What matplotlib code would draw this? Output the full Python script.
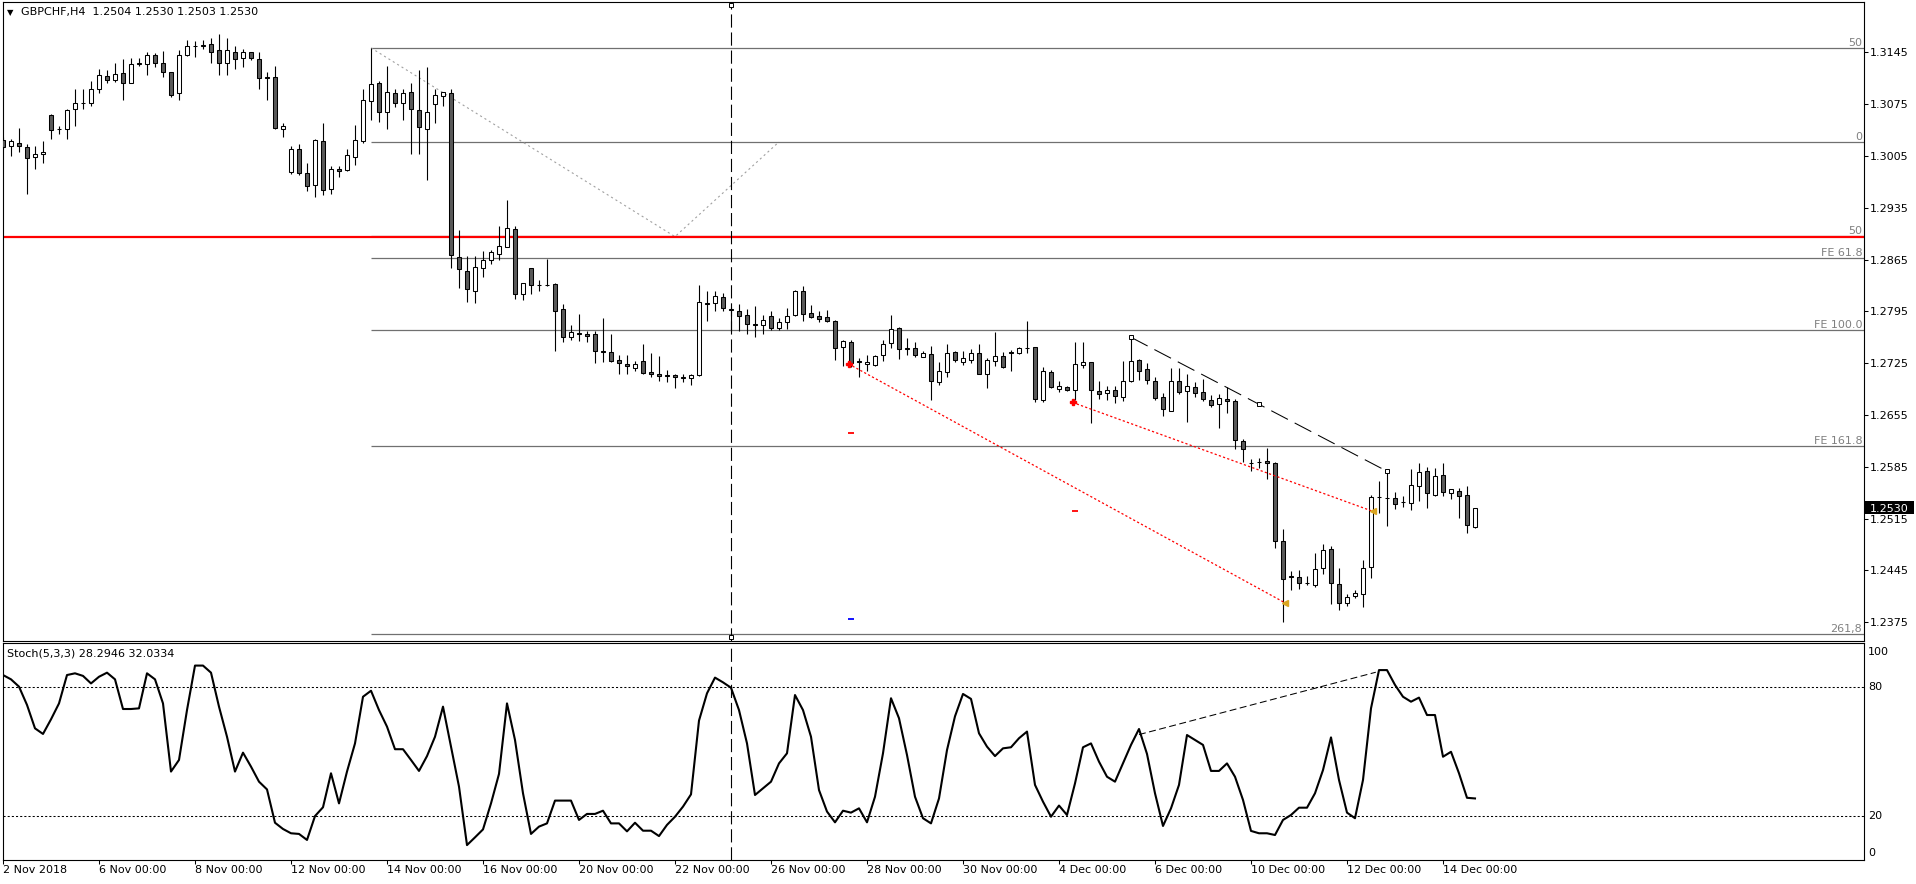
import matplotlib
matplotlib.use("Agg")
import matplotlib.pyplot as plt
import matplotlib.transforms as mtransforms
from matplotlib.patches import Rectangle
import numpy as np

plt.rcParams['font.family'] = ['DejaVu Sans']
plt.rcParams['font.size'] = 8
plt.rcParams['lines.scale_dashes'] = False

# GBPCHF H4 candles, 2 Nov 2018 00:00 .. 14 Dec 2018 16:00 (bar index 0..184)
opens = [1.3027, 1.3018, 1.3023, 1.3017, 1.3003, 1.3007, 1.3061, 1.3042, 1.3041, 1.3068,
         1.3076, 1.3077, 1.3095, 1.3113, 1.3107, 1.3117, 1.3104, 1.3129, 1.3129, 1.3141,
         1.3131, 1.3118, 1.3090, 1.3142, 1.3153, 1.3154, 1.3156, 1.3148, 1.3130, 1.3146,
         1.3138, 1.3145, 1.3136, 1.3111, 1.3111, 1.3042, 1.2984, 1.3015, 1.2982, 1.2966,
         1.3025, 1.2960, 1.2988, 1.2986, 1.3004, 1.3025, 1.3079, 1.3103, 1.3064, 1.3090,
         1.3077, 1.3091, 1.3067, 1.3042, 1.3075, 1.3086, 1.3090, 1.2869, 1.2850, 1.2823,
         1.2853, 1.2865, 1.2873, 1.2882, 1.2906, 1.2819, 1.2853, 1.2831, 1.2830, 1.2832,
         1.2798, 1.2761, 1.2766, 1.2765, 1.2764, 1.2741, 1.2740, 1.2730, 1.2724, 1.2719,
         1.2728, 1.2713, 1.2711, 1.2709, 1.2709, 1.2707, 1.2705, 1.2709, 1.2807, 1.2806,
         1.2814, 1.2798, 1.2796, 1.2790, 1.2778, 1.2777, 1.2789, 1.2773, 1.2780, 1.2790,
         1.2823, 1.2793, 1.2789, 1.2788, 1.2782, 1.2747, 1.2754, 1.2728, 1.2724, 1.2722,
         1.2736, 1.2752, 1.2772, 1.2745, 1.2746, 1.2734, 1.2737, 1.2699, 1.2713, 1.2740,
         1.2727, 1.2730, 1.2739, 1.2711, 1.2728, 1.2735, 1.2740, 1.2739, 1.2745, 1.2747,
         1.2675, 1.2713, 1.2690, 1.2693, 1.2689, 1.2722, 1.2726, 1.2687, 1.2685, 1.2689,
         1.2679, 1.2701, 1.2729, 1.2717, 1.2701, 1.2680, 1.2661, 1.2701, 1.2688, 1.2693,
         1.2686, 1.2675, 1.2670, 1.2677, 1.2674, 1.2620, 1.2590, 1.2591, 1.2593, 1.2590,
         1.2485, 1.2438, 1.2436, 1.2428, 1.2425, 1.2448, 1.2474, 1.2427, 1.2401, 1.2411,
         1.2413, 1.2450, 1.2544, 1.2543, 1.2543, 1.2537, 1.2536, 1.2559, 1.2579, 1.2547,
         1.2574, 1.2549, 1.2553, 1.2547, 1.2504]
highs = [1.3030, 1.3028, 1.3043, 1.3021, 1.3018, 1.3025, 1.3062, 1.3046, 1.3068, 1.3095,
         1.3095, 1.3106, 1.3122, 1.3121, 1.3131, 1.3136, 1.3137, 1.3137, 1.3145, 1.3144,
         1.3147, 1.3119, 1.3148, 1.3162, 1.3160, 1.3161, 1.3165, 1.3170, 1.3165, 1.3153,
         1.3149, 1.3146, 1.3146, 1.3119, 1.3126, 1.3049, 1.3019, 1.3021, 1.2995, 1.3028,
         1.3049, 1.2992, 1.2991, 1.3014, 1.3047, 1.3095, 1.3151, 1.3106, 1.3127, 1.3095,
         1.3095, 1.3103, 1.3121, 1.3125, 1.3095, 1.3092, 1.3095, 1.2905, 1.2870, 1.2870,
         1.2876, 1.2878, 1.2910, 1.2946, 1.2910, 1.2834, 1.2854, 1.2837, 1.2866, 1.2833,
         1.2805, 1.2777, 1.2791, 1.2769, 1.2768, 1.2786, 1.2765, 1.2736, 1.2736, 1.2728,
         1.2751, 1.2739, 1.2735, 1.2716, 1.2711, 1.2710, 1.2711, 1.2831, 1.2823, 1.2823,
         1.2820, 1.2801, 1.2805, 1.2798, 1.2802, 1.2790, 1.2795, 1.2786, 1.2799, 1.2824,
         1.2829, 1.2803, 1.2796, 1.2797, 1.2784, 1.2756, 1.2756, 1.2732, 1.2736, 1.2736,
         1.2757, 1.2790, 1.2774, 1.2759, 1.2753, 1.2741, 1.2748, 1.2727, 1.2751, 1.2741,
         1.2741, 1.2744, 1.2751, 1.2732, 1.2767, 1.2740, 1.2743, 1.2747, 1.2782, 1.2747,
         1.2720, 1.2716, 1.2701, 1.2694, 1.2754, 1.2753, 1.2727, 1.2701, 1.2694, 1.2694,
         1.2728, 1.2760, 1.2731, 1.2725, 1.2707, 1.2685, 1.2718, 1.2718, 1.2711, 1.2700,
         1.2704, 1.2682, 1.2683, 1.2693, 1.2677, 1.2623, 1.2596, 1.2597, 1.2610, 1.2591,
         1.2501, 1.2444, 1.2445, 1.2437, 1.2469, 1.2481, 1.2478, 1.2448, 1.2413, 1.2418,
         1.2459, 1.2547, 1.2566, 1.2579, 1.2551, 1.2545, 1.2582, 1.2590, 1.2585, 1.2584,
         1.2590, 1.2555, 1.2556, 1.2559, 1.2530]
lows = [1.3015, 1.3005, 1.3011, 1.2953, 1.2988, 1.2995, 1.3028, 1.3034, 1.3028, 1.3045,
        1.3068, 1.3072, 1.3090, 1.3104, 1.3105, 1.3080, 1.3103, 1.3127, 1.3115, 1.3125,
        1.3112, 1.3084, 1.3080, 1.3140, 1.3139, 1.3149, 1.3130, 1.3115, 1.3115, 1.3122,
        1.3125, 1.3134, 1.3095, 1.3080, 1.3042, 1.3031, 1.2981, 1.2979, 1.2957, 1.2950,
        1.2952, 1.2954, 1.2977, 1.2985, 1.2993, 1.3022, 1.3054, 1.3051, 1.3042, 1.3071,
        1.3053, 1.3008, 1.3008, 1.2972, 1.3050, 1.3072, 1.2853, 1.2827, 1.2808, 1.2807,
        1.2841, 1.2859, 1.2864, 1.2882, 1.2812, 1.2811, 1.2819, 1.2823, 1.2829, 1.2741,
        1.2753, 1.2756, 1.2755, 1.2754, 1.2725, 1.2727, 1.2727, 1.2711, 1.2710, 1.2714,
        1.2711, 1.2706, 1.2701, 1.2699, 1.2692, 1.2699, 1.2696, 1.2708, 1.2782, 1.2796,
        1.2795, 1.2768, 1.2768, 1.2764, 1.2760, 1.2765, 1.2770, 1.2770, 1.2771, 1.2789,
        1.2782, 1.2786, 1.2781, 1.2780, 1.2729, 1.2721, 1.2720, 1.2707, 1.2715, 1.2721,
        1.2728, 1.2746, 1.2731, 1.2736, 1.2733, 1.2733, 1.2675, 1.2696, 1.2707, 1.2727,
        1.2723, 1.2725, 1.2710, 1.2692, 1.2721, 1.2718, 1.2714, 1.2738, 1.2739, 1.2673,
        1.2672, 1.2691, 1.2686, 1.2687, 1.2675, 1.2719, 1.2644, 1.2676, 1.2675, 1.2671,
        1.2674, 1.2699, 1.2702, 1.2697, 1.2675, 1.2654, 1.2660, 1.2683, 1.2646, 1.2679,
        1.2674, 1.2666, 1.2638, 1.2658, 1.2609, 1.2591, 1.2580, 1.2584, 1.2569, 1.2475,
        1.2376, 1.2418, 1.2420, 1.2425, 1.2423, 1.2440, 1.2400, 1.2392, 1.2397, 1.2408,
        1.2396, 1.2435, 1.2522, 1.2505, 1.2528, 1.2531, 1.2527, 1.2539, 1.2529, 1.2546,
        1.2546, 1.2542, 1.2516, 1.2496, 1.2503]
closes = [1.3017, 1.3025, 1.3018, 1.3002, 1.3007, 1.3010, 1.3040, 1.3041, 1.3067, 1.3077,
          1.3077, 1.3096, 1.3114, 1.3107, 1.3116, 1.3103, 1.3129, 1.3130, 1.3141, 1.3130,
          1.3118, 1.3088, 1.3141, 1.3153, 1.3154, 1.3155, 1.3146, 1.3130, 1.3148, 1.3136,
          1.3145, 1.3137, 1.3110, 1.3110, 1.3043, 1.3045, 1.3015, 1.2982, 1.2964, 1.3027,
          1.2959, 1.2987, 1.2985, 1.3006, 1.3026, 1.3080, 1.3102, 1.3065, 1.3091, 1.3076,
          1.3090, 1.3068, 1.3044, 1.3064, 1.3087, 1.3091, 1.2871, 1.2852, 1.2825, 1.2855,
          1.2864, 1.2875, 1.2884, 1.2907, 1.2818, 1.2833, 1.2830, 1.2830, 1.2830, 1.2796,
          1.2761, 1.2767, 1.2765, 1.2762, 1.2741, 1.2740, 1.2728, 1.2725, 1.2721, 1.2724,
          1.2712, 1.2711, 1.2708, 1.2708, 1.2707, 1.2705, 1.2709, 1.2808, 1.2805, 1.2816,
          1.2799, 1.2797, 1.2789, 1.2778, 1.2776, 1.2784, 1.2773, 1.2781, 1.2789, 1.2823,
          1.2792, 1.2788, 1.2785, 1.2782, 1.2746, 1.2755, 1.2725, 1.2726, 1.2727, 1.2735,
          1.2751, 1.2771, 1.2744, 1.2744, 1.2736, 1.2739, 1.2701, 1.2715, 1.2739, 1.2729,
          1.2732, 1.2739, 1.2711, 1.2729, 1.2735, 1.2720, 1.2739, 1.2746, 1.2746, 1.2676,
          1.2715, 1.2693, 1.2694, 1.2689, 1.2724, 1.2727, 1.2689, 1.2683, 1.2689, 1.2681,
          1.2701, 1.2728, 1.2715, 1.2702, 1.2678, 1.2663, 1.2701, 1.2686, 1.2694, 1.2685,
          1.2676, 1.2668, 1.2678, 1.2674, 1.2621, 1.2609, 1.2590, 1.2591, 1.2590, 1.2485,
          1.2433, 1.2436, 1.2428, 1.2428, 1.2447, 1.2473, 1.2428, 1.2401, 1.2409, 1.2414,
          1.2448, 1.2544, 1.2544, 1.2543, 1.2535, 1.2537, 1.2560, 1.2578, 1.2549, 1.2572,
          1.2551, 1.2555, 1.2545, 1.2506, 1.2530]

# Stochastic(5,3,3) main line
stoch = [85.7, 83.7, 80.3, 71.8, 60.9, 58.3, 65.1, 72.5, 85.7, 86.5,
         85.3, 81.8, 84.9, 86.8, 83.7, 69.9, 69.9, 70.2, 86.5, 83.7,
         72.5, 40.8, 46.2, 69.4, 90.1, 90.1, 86.8, 71.0, 57.0, 40.8,
         49.6, 43.1, 36.1, 32.5, 17.0, 14.1, 12.1, 11.8, 9.0, 20.1,
         24.2, 40.0, 26.0, 40.8, 53.9, 75.6, 78.4, 69.4, 61.7, 51.2,
         51.2, 46.2, 41.1, 48.0, 57.0, 71.0, 52.4, 33.8, 6.6, 10.2,
         13.9, 26.0, 39.7, 72.5, 55.5, 30.7, 11.8, 15.2, 16.7, 27.3,
         27.3, 27.3, 18.3, 21.1, 21.1, 22.6, 16.7, 16.7, 13.0, 17.0,
         13.3, 13.3, 10.8, 16.0, 19.8, 24.5, 30.2, 64.5, 77.2, 84.5,
         82.3, 79.8, 69.4, 53.9, 29.9, 33.0, 36.1, 44.6, 49.3, 76.4,
         69.4, 57.0, 32.2, 22.2, 17.2, 22.6, 21.7, 23.7, 17.2, 29.1,
         49.3, 74.9, 65.6, 48.5, 29.1, 19.1, 16.7, 28.3, 50.8, 66.5,
         76.9, 74.6, 58.6, 52.4, 48.0, 51.6, 52.1, 56.3, 59.4, 34.6,
         26.8, 19.8, 25.0, 20.6, 35.3, 52.1, 53.9, 45.4, 38.4, 36.1,
         44.6, 53.2, 60.6, 49.0, 30.7, 15.5, 23.7, 34.6, 57.8, 55.5,
         53.2, 41.1, 41.1, 44.6, 38.4, 27.6, 13.2, 12.1, 12.1, 11.3,
         18.3, 20.6, 24.0, 24.0, 30.7, 41.5, 56.7, 36.9, 21.7, 19.1,
         36.9, 70.2, 88.0, 88.0, 81.1, 75.6, 73.3, 75.2, 67.1, 67.1,
         47.7, 50.0, 40.0, 28.6, 28.3]

price_ticks = [1.3145, 1.3075, 1.3005, 1.2935, 1.2865, 1.2795, 1.2725,
               1.2655, 1.2585, 1.2515, 1.2445, 1.2375]
time_tick_bars = [0, 12, 24, 36, 48, 60, 72, 84, 96, 108, 120, 132, 144, 156, 168, 180]
time_tick_labels = ['2 Nov 2018', '6 Nov 00:00', '8 Nov 00:00', '12 Nov 00:00',
                    '14 Nov 00:00', '16 Nov 00:00', '20 Nov 00:00', '22 Nov 00:00',
                    '26 Nov 00:00', '28 Nov 00:00', '30 Nov 00:00', '4 Dec 00:00',
                    '6 Dec 00:00', '10 Dec 00:00', '12 Dec 00:00', '14 Dec 00:00']

# fibonacci objects
fib_start_bar = 46
fib_levels = [1.3151, 1.3024, 1.2897, 1.2867, 1.2770, 1.2613, 1.2359]
fib_labels = ['50', '0', '50', 'FE 61.8', 'FE 100.0', 'FE 161.8', '261,8']
fib_zigzag_bars = [46, 84, 97]
fib_zigzag_prices = [1.3151, 1.2896, 1.3024]
red_level = 1.2896

# trend lines
trend_bars = [141, 173]
trend_prices = [1.2760, 1.2579]
stoch_trend_bars = [142, 171.6]
stoch_trend_vals = [58, 87]
red_lines = [([105.7, 160.3], [1.2724, 1.2401]),
             ([133.7, 171.2], [1.2672, 1.2525])]
star_bars = [105.7, 133.7]
star_prices = [1.2724, 1.2672]
tri_bars = [160.3, 171.2]
tri_prices = [1.2401, 1.2525]
dash_bars = [106, 134, 106]
dash_prices = [1.2631, 1.2526, 1.2379]
dash_colors = ['red', 'red', 'blue']
vline_bar = 91

W, H = 1916, 884
fig = plt.figure(figsize=(W / 100, H / 100), dpi=100)


def px_box(left, top, right, bottom):
    return [left / W, 1 - bottom / H, (right - left) / W, (bottom - top) / H]


ax = fig.add_axes(px_box(2.5, 2, 1864, 641))
ax2 = fig.add_axes(px_box(2.5, 643, 1864, 860))

o = np.array(opens)
h = np.array(highs)
l = np.array(lows)
c = np.array(closes)
x = np.arange(len(o))
up = c >= o

xmin, xmax = -0.0625, 232.625

# price panel
ax.vlines(x, l, h, color='black', lw=0.8, zorder=2)
ax.bar(x, np.maximum(np.abs(c - o), 0.00004), bottom=np.minimum(o, c), width=0.5,
       color=np.where(up, 'white', '#595959'), edgecolor='black', linewidth=0.75, zorder=3)

ax.hlines(fib_levels, fib_start_bar, xmax, color='#707070', lw=0.9, zorder=1)
ax.axhline(red_level, color='#ff0000', lw=1.6, zorder=1.5)
btrans = mtransforms.blended_transform_factory(ax.transAxes, ax.transData)
for lev, lab in zip(fib_levels, fib_labels):
    ax.annotate(lab, xy=(0.999, lev), xycoords=btrans, xytext=(0, 2),
                textcoords='offset pixels', ha='right', va='baseline', color='#808080')
ax.plot(fib_zigzag_bars, fib_zigzag_prices, color='#a0a0a0', lw=0.8,
        ls=(0, (1.5, 2.2)), zorder=1)

ax.plot(trend_bars, trend_prices, color='black', lw=0.75, ls=(0, (13.5, 5.5)), zorder=4)
ax.plot([trend_bars[0], np.mean(trend_bars), trend_bars[1]],
        [trend_prices[0], np.mean(trend_prices), trend_prices[1]], ls='none',
        marker='s', ms=3.5, mfc='white', mec='black', mew=0.7, zorder=5)

for bx, py in red_lines:
    ax.plot(bx, py, color='red', lw=0.9, ls=(0, (1.6, 1.6)), zorder=4)
ax.plot(star_bars, star_prices, ls='none', marker='P', ms=5, color='red', zorder=5)
ax.plot(tri_bars, tri_prices, ls='none', marker='<', ms=4.5, color='#DAA520', zorder=5)
for bx, py, col in zip(dash_bars, dash_prices, dash_colors):
    ax.plot([bx], [py], ls='none', marker='_', ms=5, mew=1.3, color=col, zorder=5)

ax.axvline(vline_bar, color='black', lw=0.8, ls=(0, (9.5, 3.5)), zorder=4)
vtrans = mtransforms.blended_transform_factory(ax.transData, ax.transAxes)
ax.plot([vline_bar, vline_bar], [0.995, 0.007], transform=vtrans, ls='none', marker='s',
        ms=3.5, mfc='white', mec='black', mew=0.7, zorder=6, clip_on=False)

ax.set_xlim(xmin, xmax)
ax.set_ylim(1.23497, 1.3213)
ax.set_xticks([])
ax.yaxis.tick_right()
ax.set_yticks(price_ticks)
ax.set_yticklabels([f'{p:.4f}' for p in price_ticks])
ax.tick_params(axis='y', direction='out', length=3, width=0.75, pad=1.5, labelsize=8)
for sp in ax.spines.values():
    sp.set_linewidth(0.8)

# current price box
last = closes[-1]
ftrans = mtransforms.blended_transform_factory(fig.transFigure, ax.transData)
fig.patches.append(Rectangle((1865 / W, last - 0.00088), 49 / W, 0.00176,
                             transform=ftrans, fc='black', ec='none', zorder=10))
fig.text(1870 / W, last, f'{last:.4f}', transform=ftrans, color='white',
         va='center_baseline', ha='left', fontsize=8, zorder=11)

# stochastic panel
ax2.plot(x, stoch, color='black', lw=1.5)
ax2.axhline(80, color='black', lw=0.75, ls=(0, (1.5, 1.5)))
ax2.axhline(20, color='black', lw=0.75, ls=(0, (1.5, 1.5)))
ax2.plot(stoch_trend_bars, stoch_trend_vals, color='black', lw=0.75, ls=(0, (5, 2.5)))
ax2.axvline(vline_bar, color='black', lw=0.8, ls=(0, (9.5, 3.5)))
ax2.set_xlim(xmin, xmax)
ax2.set_ylim(-0.33, 100.6)
ax2.set_yticks([])
ax2.set_xticks(time_tick_bars)
ax2.set_xticklabels(time_tick_labels)
for lbl in ax2.get_xticklabels():
    lbl.set_horizontalalignment('left')
ax2.tick_params(axis='x', direction='out', length=3, width=0.75, pad=0.5, labelsize=8)
for sp in ax2.spines.values():
    sp.set_linewidth(0.8)

strans = mtransforms.blended_transform_factory(ax2.transAxes, ax2.transData)
for val, lab, dy in [(100, '100', -8), (80, '80', 0), (20, '20', 0), (0, '0', 6)]:
    ax2.annotate(lab, xy=(1.0, val), xycoords=strans, xytext=(4, dy),
                 textcoords='offset pixels', ha='left', va='center', annotation_clip=False)

fig.text(10 / W, 1 - 12.5 / H, '\u25bc', fontsize=6, ha='center', va='center')
fig.text(21 / W, 1 - 12.5 / H, 'GBPCHF,H4  1.2504 1.2530 1.2503 1.2530', va='center')
fig.text(7 / W, 1 - 654 / H, 'Stoch(5,3,3) 28.2946 32.0334', va='center')

fig.savefig('out.png', dpi=100, facecolor='white')
